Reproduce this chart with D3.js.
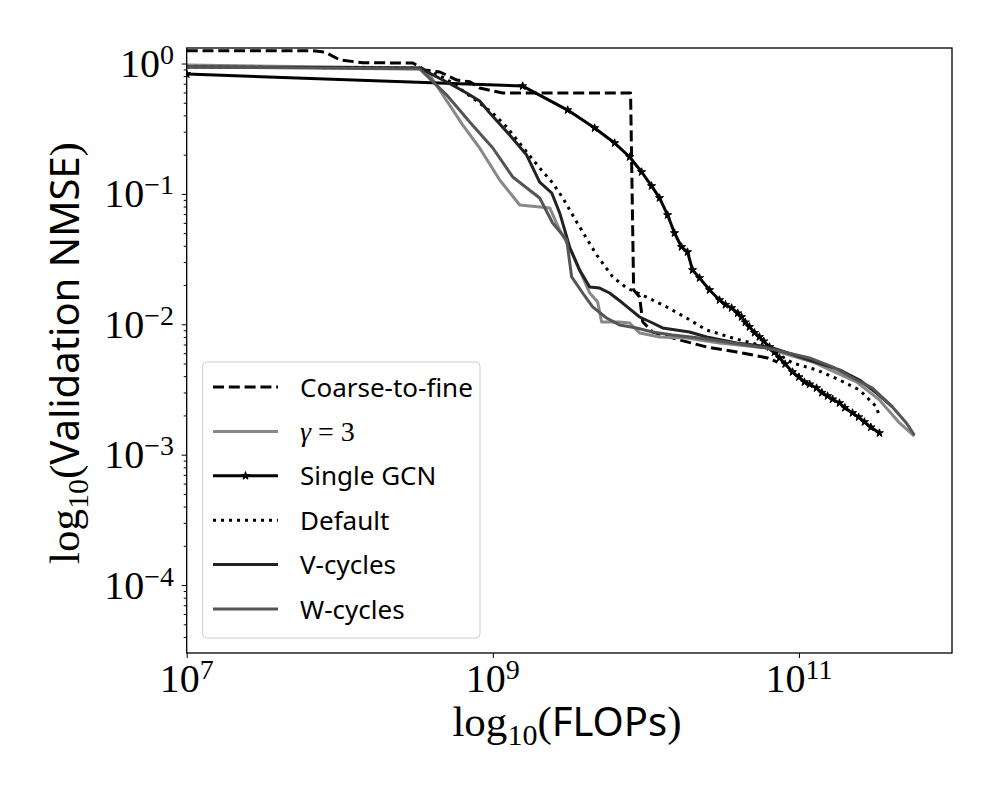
<!DOCTYPE html>
<html>
<head>
<meta charset="utf-8">
<script src="https://cdn.jsdelivr.net/npm/d3@7"></script>
<style>
  body { margin: 0; background: #fff; }
  .serif { font-family: "Liberation Serif", "DejaVu Serif", serif; }
  .sans { font-family: "Noto Sans", "DejaVu Sans", sans-serif; }
</style>
</head>
<body>
<div id="chart"></div>
<script>
// values: log10(FLOPs) and log10(NMSE)
var ctfLogF = [7, 7.824, 7.902, 8.002, 8.15, 8.478, 8.556, 8.654, 8.765, 8.85, 8.914, 9.065, 9.90, 9.92, 9.959, 9.979, 10.044, 10.22, 10.397, 10.593, 10.795, 10.86];
var ctfLogE = [0.098, 0.098, 0.088, 0.027, 0.006, 0.004, -0.05, -0.065, -0.127, -0.14, -0.188, -0.226, -0.226, -1.737, -1.79, -1.98, -2.06, -2.12, -2.174, -2.212, -2.258, -2.29];

var gammaLogF = [7, 8.523, 8.588, 8.804, 8.914, 9.045, 9.176, 9.372, 9.437, 9.502, 9.567, 9.633, 9.685, 9.711, 9.828, 9.894, 9.959, 10.089, 10.266, 10.481, 10.789, 11.089, 11.376, 11.526, 11.657, 11.754];
var gammaLogE = [-0.012, -0.035, -0.088, -0.472, -0.648, -0.893, -1.085, -1.108, -1.277, -1.415, -1.584, -1.760, -1.829, -1.982, -1.982, -1.990, -2.067, -2.097, -2.105, -2.143, -2.182, -2.289, -2.442, -2.580, -2.757, -2.857];

var singleLogF = [7, 9.195, 9.489, 9.665, 9.796, 9.894, 9.972, 10.037, 10.089, 10.142, 10.187, 10.233, 10.272, 10.305, 10.351, 10.416, 10.481, 10.52, 10.560, 10.60, 10.625, 10.65, 10.677, 10.71, 10.742, 10.77, 10.808, 10.84, 10.873, 10.91, 10.958, 11.0, 11.036, 11.07, 11.115, 11.15, 11.187, 11.22, 11.265, 11.30, 11.350, 11.39, 11.428, 11.47, 11.526];
var singleLogE = [-0.081, -0.173, -0.357, -0.495, -0.610, -0.717, -0.832, -0.939, -1.031, -1.162, -1.300, -1.407, -1.446, -1.584, -1.645, -1.737, -1.814, -1.850, -1.875, -1.915, -1.944, -1.985, -2.020, -2.065, -2.097, -2.130, -2.174, -2.215, -2.258, -2.305, -2.366, -2.405, -2.443, -2.460, -2.489, -2.525, -2.550, -2.575, -2.604, -2.640, -2.680, -2.712, -2.749, -2.790, -2.834];

var defaultLogF = [7, 8.523, 8.686, 8.797, 9.0, 9.091, 9.195, 9.306, 9.391, 9.457, 9.548, 9.679, 9.783, 9.875, 10.005, 10.136, 10.266, 10.397, 10.567, 10.789, 10.958, 11.115, 11.265, 11.396, 11.507, 11.526];
var defaultLogE = [-0.027, -0.035, -0.111, -0.203, -0.380, -0.487, -0.640, -0.801, -0.916, -1.031, -1.216, -1.469, -1.637, -1.722, -1.791, -1.867, -1.952, -2.044, -2.105, -2.174, -2.297, -2.350, -2.427, -2.504, -2.634, -2.711];

var vLogF = [7, 8.523, 8.699, 8.829, 8.914, 8.980, 9.110, 9.221, 9.306, 9.385, 9.437, 9.502, 9.567, 9.633, 9.698, 9.763, 9.848, 9.959, 10.044, 10.109, 10.285, 10.397, 10.593, 10.808, 11.069, 11.265, 11.396, 11.507, 11.611];
var vLogE = [-0.027, -0.035, -0.142, -0.226, -0.288, -0.380, -0.548, -0.702, -0.909, -0.993, -1.146, -1.407, -1.584, -1.714, -1.722, -1.760, -1.837, -1.944, -1.990, -2.028, -2.059, -2.097, -2.143, -2.174, -2.274, -2.350, -2.427, -2.527, -2.634];

var wLogF = [7, 8.523, 8.699, 8.849, 9.0, 9.130, 9.306, 9.391, 9.483, 9.515, 9.587, 9.652, 9.743, 9.828, 9.939, 10.044, 10.174, 10.351, 10.567, 10.789, 11.069, 11.219, 11.376, 11.480, 11.611, 11.702, 11.754];
var wLogE = [-0.027, -0.042, -0.242, -0.449, -0.648, -0.870, -1.031, -1.223, -1.354, -1.637, -1.760, -1.867, -1.952, -2.005, -2.028, -2.059, -2.082, -2.105, -2.143, -2.182, -2.258, -2.327, -2.427, -2.489, -2.634, -2.757, -2.849];

var xTickExps = [7, 9, 11];
var yTickExps = [0, -1, -2, -3, -4];
var legendNames = ["Coarse-to-fine", "\u03B3 = 3", "Single GCN", "Default", "V-cycles", "W-cycles"];

var W = 1000, H = 800;
var pL = 186.7, pR = 952, pT = 48, pB = 653;

var svg = d3.select("#chart").append("svg")
	.attr("width", W)
	.attr("height", H);

var x = d3.scaleLog().domain([1e7, 1e12]).range([pL, pR]);
var y = d3.scaleLog().domain([Math.pow(10, -4.521), Math.pow(10, 0.119)]).range([pB, pT]);

function pts(lf, le) {
	return lf.map(function(v, i) { return [Math.pow(10, v), Math.pow(10, le[i])]; });
}

var series = [
	{name: legendNames[0], data: pts(ctfLogF, ctfLogE), color: "#000", dash: "11,4.8"},
	{name: legendNames[1], data: pts(gammaLogF, gammaLogE), color: "#888", dash: null},
	{name: legendNames[2], data: pts(singleLogF, singleLogE), color: "#000", dash: null, star: true},
	{name: legendNames[3], data: pts(defaultLogF, defaultLogE), color: "#000", dash: "3,5"},
	{name: legendNames[4], data: pts(vLogF, vLogE), color: "#222", dash: null},
	{name: legendNames[5], data: pts(wLogF, wLogE), color: "#555", dash: null}
];

svg.append("clipPath").attr("id", "clip")
	.append("rect").attr("x", pL).attr("y", pT)
	.attr("width", pR - pL).attr("height", pB - pT);

var line = d3.line()
	.x(function(d) { return x(d[0]); })
	.y(function(d) { return y(d[1]); });

var plot = svg.append("g").attr("clip-path", "url(#clip)");
var star = d3.symbol().type(d3.symbolStar).size(20);

series.forEach(function(s) {
	plot.append("path")
		.datum(s.data)
		.attr("d", line)
		.attr("fill", "none")
		.attr("stroke", s.color)
		.attr("stroke-width", 3)
		.attr("stroke-linejoin", "round")
		.attr("stroke-dasharray", s.dash);
	if (s.star) {
		plot.selectAll(null).data(s.data).enter().append("path")
			.attr("d", star)
			.attr("transform", function(d) { return "translate(" + x(d[0]) + "," + y(d[1]) + ")"; })
			.attr("fill", s.color)
			.attr("stroke", s.color)
			.attr("stroke-width", 1);
	}
});

// axes: ticks only, labels drawn by hand because of superscripts
svg.append("g")
	.attr("transform", "translate(0," + pB + ")")
	.call(d3.axisBottom(x)
		.tickValues(xTickExps.map(function(e) { return Math.pow(10, e); }))
		.tickSize(5).tickFormat(""));

var yMinor = [];
for (var k = -5; k <= 0; k++) {
	for (var m = 2; m <= 9; m++) {
		var v = m * Math.pow(10, k);
		if (v > y.domain()[0] && v < y.domain()[1]) yMinor.push(v);
	}
}
svg.append("g")
	.attr("transform", "translate(" + pL + ",0)")
	.call(d3.axisLeft(y).tickValues(yMinor).tickSize(3).tickFormat(""));
svg.append("g")
	.attr("transform", "translate(" + pL + ",0)")
	.call(d3.axisLeft(y)
		.tickValues(yTickExps.map(function(e) { return Math.pow(10, e); }))
		.tickSize(5).tickFormat(""));

svg.selectAll(".domain").remove();
svg.selectAll(".tick line").attr("stroke", "#000").attr("stroke-width", 1);

svg.append("rect")
	.attr("x", pL).attr("y", pT)
	.attr("width", pR - pL).attr("height", pB - pT)
	.attr("fill", "none").attr("stroke", "#000").attr("stroke-width", 1.3);

function powLabel(g, exp) {
	g.append("tspan").text("10");
	g.append("tspan").attr("dy", -13).attr("font-size", 28)
		.text(exp < 0 ? "\u2212" + (-exp) : String(exp));
}

xTickExps.forEach(function(e) {
	var t = svg.append("text").attr("class", "serif")
		.attr("x", x(Math.pow(10, e))).attr("y", 692)
		.attr("text-anchor", "middle").attr("font-size", 40);
	powLabel(t, e);
});

yTickExps.forEach(function(e) {
	var t = svg.append("text").attr("class", "serif")
		.attr("x", 174).attr("y", y(Math.pow(10, e)) + 13.5)
		.attr("text-anchor", "end").attr("font-size", 40);
	powLabel(t, e);
});

// axis titles: log_10 in serif, words in sans
function axisTitle(t, word) {
	t.append("tspan").attr("class", "serif").attr("font-size", 43).text("log");
	t.append("tspan").attr("class", "serif").attr("font-size", 30).attr("dy", 9).text("10");
	t.append("tspan").attr("class", "serif").attr("font-size", 43).attr("dy", -9).text("(");
	t.append("tspan").attr("class", "sans").attr("font-size", 40).text(word);
	t.append("tspan").attr("class", "serif").attr("font-size", 43).text(")");
}

var xt = svg.append("text").attr("x", 567).attr("y", 736).attr("text-anchor", "middle");
axisTitle(xt, "FLOPs");

var yt = svg.append("text")
	.attr("transform", "translate(79," + 353 + ") rotate(-90)")
	.attr("text-anchor", "middle");
axisTitle(yt, "Validation NMSE");

// legend
var lg = svg.append("g");
lg.append("rect")
	.attr("x", 202.7).attr("y", 362)
	.attr("width", 277.3).attr("height", 276)
	.attr("rx", 4)
	.attr("fill", "#fff").attr("fill-opacity", 0.8)
	.attr("stroke", "#ccc").attr("stroke-width", 1);

series.forEach(function(s, i) {
	var cy = 387 + i * 44.4;
	lg.append("line")
		.attr("x1", 213).attr("x2", 278)
		.attr("y1", cy).attr("y2", cy)
		.attr("stroke", s.color).attr("stroke-width", 3)
		.attr("stroke-dasharray", s.dash);
	if (s.star) {
		lg.append("path").attr("d", star)
			.attr("transform", "translate(245.5," + cy + ")")
			.attr("fill", s.color).attr("stroke", s.color);
	}
	var t = lg.append("text").attr("x", 300).attr("y", cy + 9.5);
	if (i === 1) {
		t.attr("class", "serif").attr("font-size", 28);
		t.append("tspan").attr("font-style", "italic").text("\u03B3");
		t.append("tspan").text(" = 3");
	} else {
		t.attr("class", "sans").attr("font-size", 26).text(s.name);
	}
});
</script>
</body>
</html>
